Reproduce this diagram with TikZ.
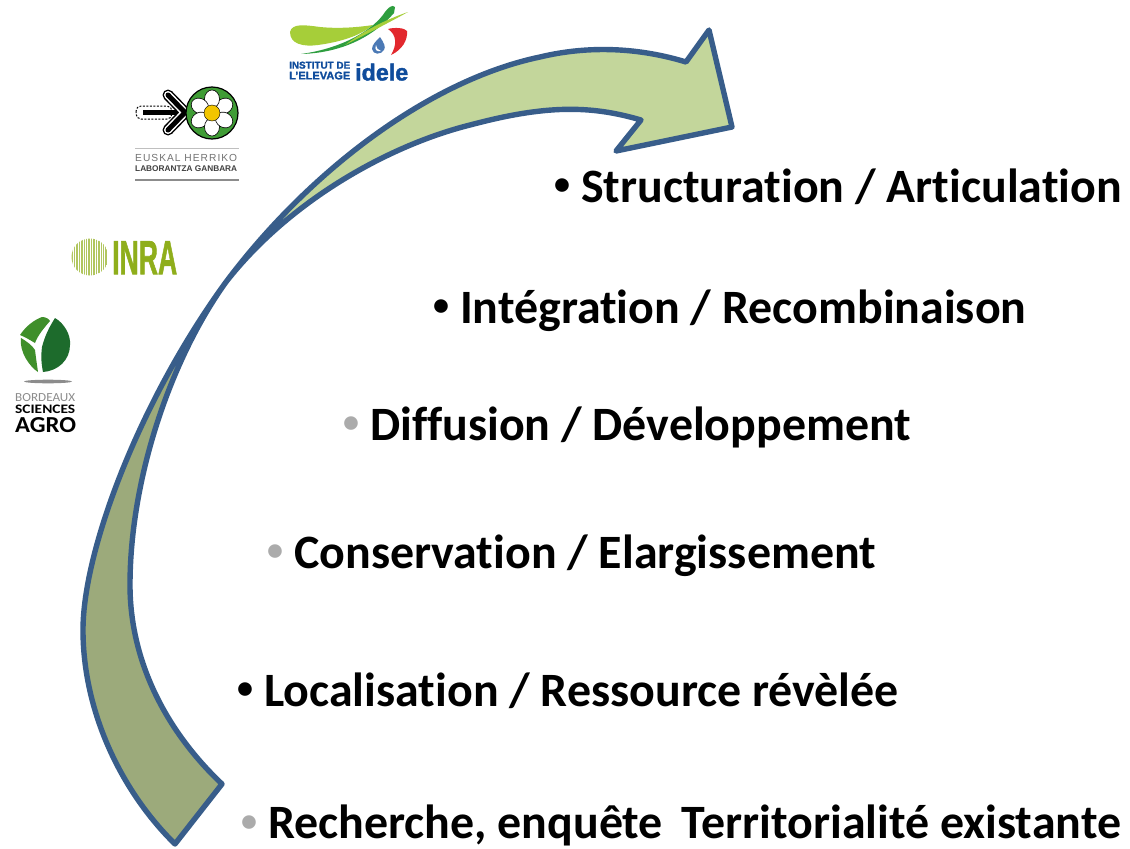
\documentclass[tikz,border=0pt]{standalone}
\usepackage{fontspec}
\setmainfont{Carlito}[Ligatures=CommonOff]
\newfontfamily\logofont{Liberation Sans}
\newfontfamily\logoheavy[FakeBold=1.5]{Liberation Sans Bold}
\newfontfamily\logospaced[LetterSpace=10]{Liberation Sans}
\newfontfamily\logohum{Carlito}
\definecolor{edgeblue}{HTML}{385D8A}
\definecolor{lightband}{HTML}{C3D69B}
\definecolor{darkband}{HTML}{9CAA7B}
\definecolor{bulletgray}{HTML}{ABABAB}
\definecolor{inragreen}{HTML}{8FAE1B}
\definecolor{idelelime}{HTML}{A6CE39}
\definecolor{ideledark}{HTML}{2E9E3F}
\definecolor{ideleblue}{HTML}{0F4C9C}
\definecolor{idelered}{HTML}{E2282E}
\definecolor{euskgreen}{HTML}{3F9C35}
\definecolor{euskyellow}{HTML}{F2C500}
\definecolor{leafgreen}{HTML}{3F8F2A}
\definecolor{leafdark}{HTML}{1D6B2C}
\newcommand{\itemline}[5]{%
  \node[itemtext] (#1) at (#2,#3) {\makebox[26bp][l]{\raisebox{7.5bp}{\fontsize{32bp}{32bp}\selectfont\hspace{-1bp}\color{#4}•}}#5};}
\newcommand{\fitlogo}[2]{\resizebox{#1}{!}{#2}}
\tikzset{
  x=1bp,y=-1bp,
  itemtext/.style={anchor=base west,inner sep=0pt,font=\fontsize{47.9bp}{50bp}\selectfont\bfseries,text=black},
  ribbon/.style={draw=edgeblue,line width=5.4bp,line join=round},
  logotext/.style={inner sep=0pt,font=\logofont},
  petal/.style={fill=white,draw=black,line width=.6bp}
}
\begin{document}
\begin{tikzpicture}
\useasboundingbox (0,0) rectangle (1130,849);
\fill[white] (0,0) rectangle (1130,849);

% ribbon arrow: lower band
\fill[darkband] (175,844) .. controls (120,790) and (83,710) .. (83,630) .. controls (83,550) and (140,400) .. (226,282)
  .. controls (170,360) and (130,480) .. (130,585) .. controls (130,660) and (165,730) .. (222,784) -- cycle;
% upper band
\fill[lightband] (226,282) .. controls (290,200) and (390,145) .. (470,125) .. controls (545,105) and (590,105) .. (641,120)
  -- (616,151) -- (732,127) -- (709,30) -- (686,62)
  .. controls (640,48) and (590,45) .. (540,57) .. controls (430,80) and (310,170) .. (226,282) -- cycle;
% outline
\draw[ribbon] (175,844) .. controls (120,790) and (83,710) .. (83,630) .. controls (83,550) and (140,400) .. (226,282)
  .. controls (290,200) and (390,145) .. (470,125) .. controls (545,105) and (590,105) .. (641,120)
  -- (616,151) -- (732,127) -- (709,30) -- (686,62)
  .. controls (640,48) and (590,45) .. (540,57) .. controls (430,80) and (310,170) .. (226,282)
  .. controls (170,360) and (130,480) .. (130,585) .. controls (130,660) and (165,730) .. (222,784) -- cycle;

% list
\itemline{i1}{555}{202}{black}{Structuration / Articulation}
\itemline{i2}{434}{323}{black}{Intégration / Recombinaison}
\itemline{i3}{344}{440}{bulletgray}{Diffusion / Développement}
\itemline{i4}{268}{568}{bulletgray}{Conservation / Elargissement}
\itemline{i5}{238}{706}{black}{Localisation / Ressource révèlée}
\itemline{i6}{242}{838.5}{bulletgray}{Recherche, enquête\hspace{19bp}Territorialité existante}

% idele logo
\fill[idelelime] (290,32) .. controls (292,23) and (305,25) .. (320,27) .. controls (340,29) and (360,27) .. (373,25) .. controls (360,36) and (340,42) .. (318,45) .. controls (303,47) and (290,44) .. (290,32) -- cycle;
\fill[ideledark] (395,7) .. controls (392,4) and (388,8) .. (385,12) .. controls (375,28) and (345,48) .. (301,54) .. controls (340,53) and (372,38) .. (394,13) -- cycle;
\fill[idelelime] (408,12) .. controls (385,20) and (365,30) .. (345,45) .. controls (365,35) and (390,22) .. (408,12) -- cycle;
\fill[idelered] (388,29) .. controls (395,27) and (405,28) .. (407,31) .. controls (408,40) and (402,50) .. (391,55) .. controls (397,45) and (397,35) .. (388,29) -- cycle;
\fill[ideleblue!75] (380,37) .. controls (384,43) and (386,47) .. (384,50) .. controls (381,55) and (373,55) .. (372,49) .. controls (372,45) and (376,41) .. (380,37) -- cycle;
\fill[white] (376,45) .. controls (374,50) and (377,52) .. (381,51) .. controls (378,50) and (376,48) .. (376,45) -- cycle;
\node[logotext,anchor=north west,text=ideleblue] (id1) at (289,61.5) {\fitlogo{61bp}{\logoheavy INSTITUT DE}};
\node[logotext,anchor=north west,text=ideleblue] (id2) at (289,71.5) {\fitlogo{61bp}{\logoheavy L’ELEVAGE}};
\node[logotext,anchor=base west,text=ideleblue] (id3) at (355,80.5) {\fitlogo{53bp}{\logoheavy idele}};

% Euskal logo
\draw[black,line width=1bp,dash pattern=on 2bp off 1.5bp,rounded corners=5bp] (136,106) rectangle (172,119);
\fill[black] (143,110) rectangle (180,115);
\draw[black,line width=11bp,line join=round,line cap=round] (168,95) -- (185,112.5) -- (168,130);
\draw[white,line width=8bp,line join=round,line cap=round] (168,95) -- (185,112.5) -- (168,130);
\draw[black,line width=5bp,line join=round,line cap=round] (168,95) -- (185,112.5) -- (168,130);
\fill[euskgreen,draw=black,line width=1.2bp] (212,113) circle (26);
\foreach \a in {30,90,150,210,270,330}{
  \draw[petal,rotate around={\a:(212,113)}] (226,113) ellipse (9 and 7.5);
}
\fill[euskyellow,draw=black,line width=.4bp] (212,113) circle (8);
\draw[black!25,line width=.7bp] (135,148.5) -- (239,148.5);
\node[logotext,anchor=north west,text=black!55] (eu1) at (135,154.5) {\fitlogo{102bp}{\logospaced EUSKAL HERRIKO}};
\node[logotext,anchor=north west,text=black!75] (eu2) at (135,166) {\fitlogo{102bp}{\bfseries LABORANTZA GANBARA}};
\draw[black!45,line width=1.5bp] (135,180) -- (239,180);

% INRA logo
\begin{scope}
\clip (90,257) circle (18.5);
\foreach \x in {71,72.7,...,110}{
  \draw[inragreen!70!white,line width=1bp] (\x,238) -- (\x,276);
}
\end{scope}
\node[logotext,anchor=north west,text=inragreen,inner sep=0pt] (inra) at (112,241) {\resizebox{65bp}{33bp}{\logoheavy INRA}};

% Bordeaux Sciences Agro logo
\fill[leafgreen] (20,335) .. controls (26,326) and (34,320) .. (42,317) .. controls (46,317) and (49,319) .. (50,321) .. controls (44,328) and (38,335) .. (35,343) .. controls (30,340) and (25,337) .. (20,335) -- cycle;
\fill[leafgreen] (21,338) .. controls (26,341) and (32,345) .. (35,350) .. controls (36,358) and (37,365) .. (38,372) .. controls (30,367) and (19,352) .. (21,338) -- cycle;
\fill[leafdark] (55,318) .. controls (64,323) and (71,335) .. (70,345) .. controls (70,360) and (58,371) .. (43,372) .. controls (41,362) and (41,355) .. (42,347) .. controls (45,335) and (50,326) .. (55,318) -- cycle;
\fill[black!45] (48,381.5) ellipse (24 and 1.8);
\node[logotext,anchor=north west,text=black!45] (bs1) at (15,393) {\resizebox{60bp}{8bp}{\logohum BORDEAUX}};
\node[logotext,anchor=north west,text=black] (bs2) at (15,405) {\resizebox{60bp}{8.5bp}{\logohum\bfseries SCIENCES}};
\node[logotext,anchor=north west,text=black] (bs3) at (15,417) {\resizebox{61bp}{15bp}{\logohum\bfseries AGRO}};
\end{tikzpicture}
\end{document}
